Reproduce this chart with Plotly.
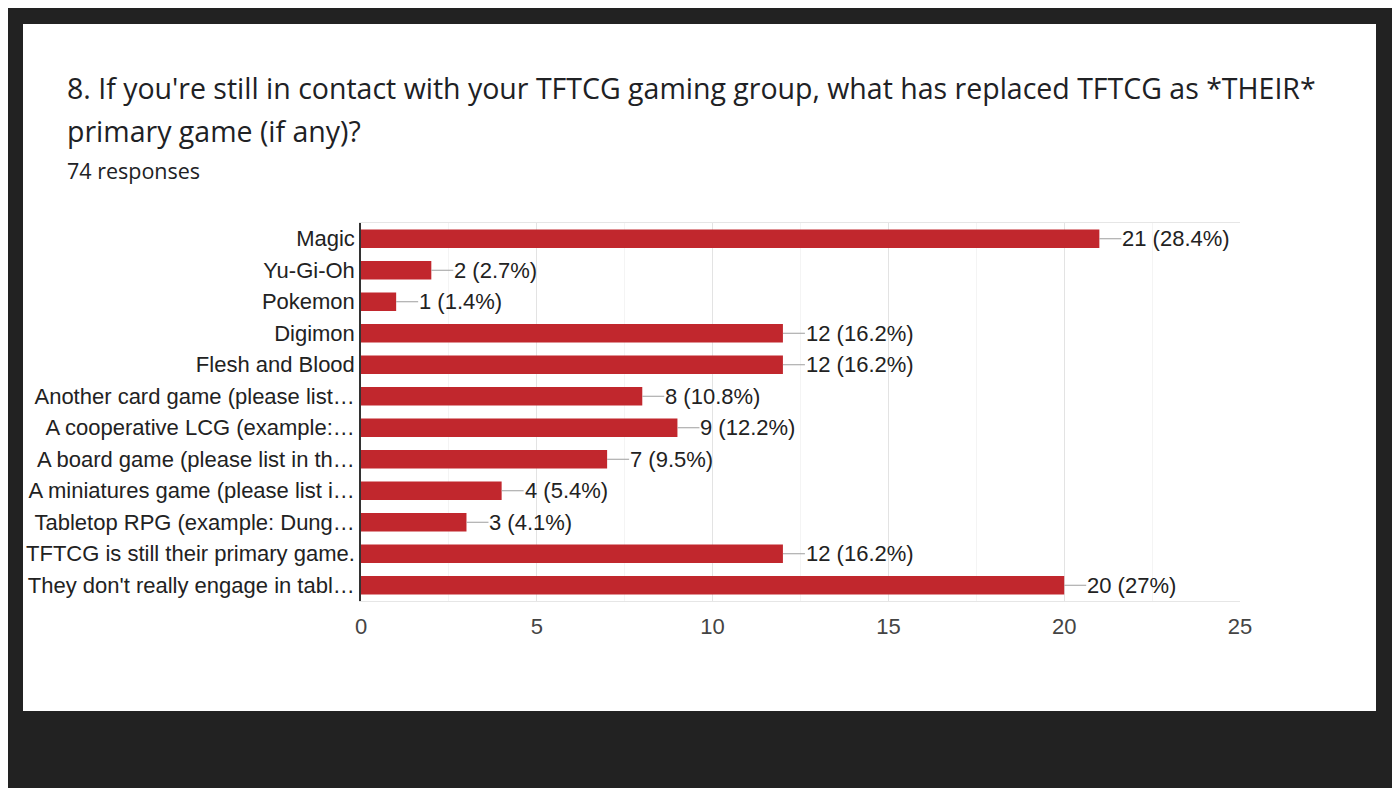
import plotly.graph_objects as go

categories = [
    "Magic",
    "Yu-Gi-Oh",
    "Pokemon",
    "Digimon",
    "Flesh and Blood",
    "Another card game (please list…",
    "A cooperative LCG (example:…",
    "A board game (please list in th…",
    "A miniatures game (please list i…",
    "Tabletop RPG (example: Dung…",
    "TFTCG is still their primary game.",
    "They don't really engage in tabl…",
]
counts = [21, 2, 1, 12, 12, 8, 9, 7, 4, 3, 12, 20]
percents = ["28.4%", "2.7%", "1.4%", "16.2%", "16.2%", "10.8%", "12.2%", "9.5%", "5.4%", "4.1%", "16.2%", "27%"]
x_ticks = [0, 5, 10, 15, 20, 25]

# page body has an 8px margin, so work in screen coords and shift
OFF = 8
W, H = 1400 - OFF, 788 - OFF
L, T = 361 - OFF, 223 - OFF
R, B = W - (1240 - OFF), H - (601 - OFF)
pw, ph = W - L - R, H - T - B


def px(x):
    return (x - OFF - L) / pw


def py(y):
    return 1 - (y - OFF - T) / ph


arial = "Liberation Sans, Arial"
fig = go.Figure()
fig.add_trace(go.Bar(
    x=counts, y=categories, orientation="h",
    marker_color="#c1272d", marker_line_width=0,
    hoverinfo="skip",
))

# value labels with short leader lines
for c, cat, p in zip(counts, categories, percents):
    fig.add_annotation(
        x=c, y=cat, xref="x", yref="y",
        text=f"{c} ({p})", showarrow=True, arrowhead=0, arrowwidth=1.2,
        arrowcolor="#9e9e9e", ax=22, ay=0, xanchor="left", standoff=0,
        borderpad=0,
        font=dict(family=arial, size=22, color="#222222"),
    )

title_font = dict(family="Open Sans, Roboto", size=28.5, color="#202124")
fig.add_annotation(x=px(65), y=py(88), xref="paper", yref="paper", xanchor="left", yanchor="middle",
                   showarrow=False, font=title_font,
                   text="8. If you're still in contact with your TFTCG gaming group, what has replaced TFTCG as *THEIR*")
fig.add_annotation(x=px(65), y=py(131), xref="paper", yref="paper", xanchor="left", yanchor="middle",
                   showarrow=False, font=title_font, text="primary game (if any)?")
fig.add_annotation(x=px(65), y=py(171), xref="paper", yref="paper", xanchor="left", yanchor="middle",
                   showarrow=False, font=dict(family="Open Sans, Roboto", size=21.5, color="#202124"),
                   text="74 responses")

# white card
fig.add_shape(type="rect", xref="paper", yref="paper", layer="below",
              x0=px(23), x1=px(1376), y0=py(711), y1=py(24),
              fillcolor="white", line_width=0)

fig.update_layout(
    width=W, height=H,
    margin=dict(l=L, r=R, t=T, b=B),
    paper_bgcolor="#222222", plot_bgcolor="white",
    showlegend=False, bargap=0.42,
    xaxis=dict(
        range=[0, 25], tickvals=x_ticks, showgrid=True, gridcolor="#e3e3e3", gridwidth=1,
        minor=dict(tick0=0, dtick=2.5, showgrid=True, gridcolor="#f4f4f4", gridwidth=1),
        zeroline=False, showline=True, linecolor="#e6e6e6", mirror=True,
        ticks="", ticklabelstandoff=6,
        tickfont=dict(family=arial, size=22, color="#444444"),
    ),
    yaxis=dict(
        autorange="reversed", showgrid=False, zeroline=False,
        showline=True, linecolor="#333333", linewidth=1.5, ticks="",
        ticklabelstandoff=0,
        tickfont=dict(family=arial, size=22, color="#222222"),
    ),
)

fig.write_html("out.html")
